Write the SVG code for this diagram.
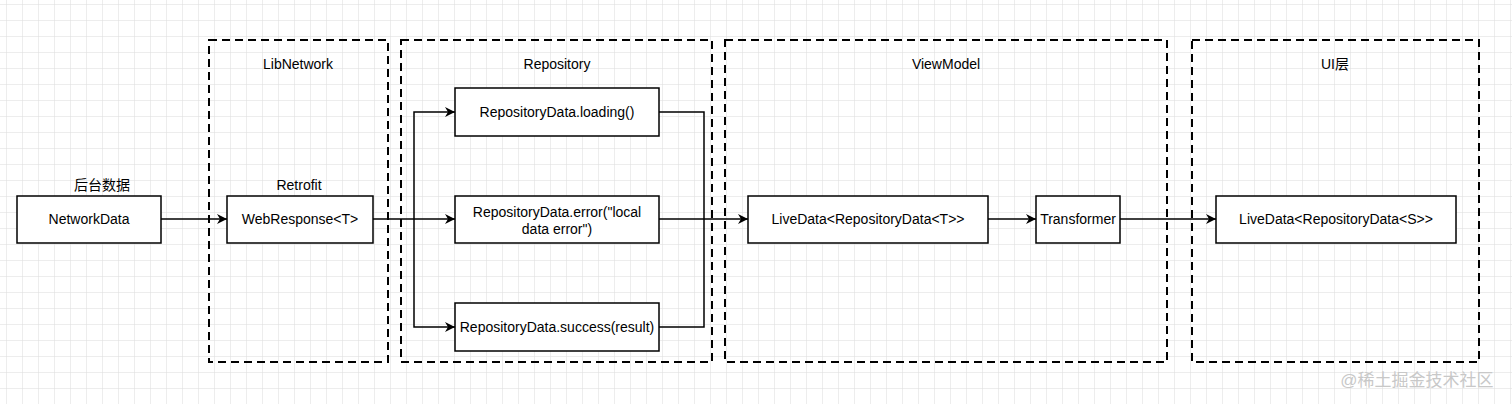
<svg xmlns="http://www.w3.org/2000/svg" width="1512" height="404" viewBox="0 0 1512 404">
<defs>
<pattern id="grid" width="16" height="16" patternUnits="userSpaceOnUse" x="6" y="4">
<path d="M16 0H0V16" fill="none" stroke="#dcdcdc" stroke-width="1"/>
</pattern>
<marker id="arr" viewBox="0 0 10 10" refX="10" refY="5" markerWidth="10" markerHeight="10" markerUnits="userSpaceOnUse" orient="auto">
<path d="M0 0L10 5L0 10L3 5Z" fill="#000"/>
</marker>
<style>
.box{fill:#fff;stroke:#000;stroke-width:1.5}
.grp{fill:none;stroke:#000;stroke-width:2;stroke-dasharray:8 5}
text{font-family:"Liberation Sans","Noto Sans CJK SC",sans-serif;font-size:14px;fill:#000;text-anchor:middle}
.ln{fill:none;stroke:#000;stroke-width:1.5}
</style>
</defs>
<rect width="1512" height="404" fill="#fff"/>
<rect width="1512" height="404" fill="url(#grid)"/>
<g id="libnetwork"><rect class="grp" x="209" y="40" width="179" height="322"/><text x="298" y="69">LibNetwork</text></g>
<g id="repository"><rect class="grp" x="401" y="40" width="311" height="322"/><text x="557" y="69">Repository</text></g>
<g id="viewmodel"><rect class="grp" x="725" y="40" width="442" height="322"/><text x="946" y="69">ViewModel</text></g>
<g id="ui"><rect class="grp" x="1192" y="40" width="287" height="322"/><text x="1335" y="69">UI层</text></g>
<g id="connectors">
<path class="ln" d="M161 219H227" marker-end="url(#arr)"/>
<path class="ln" d="M373 219H455" marker-end="url(#arr)"/>
<path class="ln" d="M414 219V112H455" marker-end="url(#arr)"/>
<path class="ln" d="M414 219V327H455" marker-end="url(#arr)"/>
<path class="ln" d="M659 112H704V327H659"/>
<path class="ln" d="M659 219H748" marker-end="url(#arr)"/>
<path class="ln" d="M988 219H1036" marker-end="url(#arr)"/>
<path class="ln" d="M1120 219H1216" marker-end="url(#arr)"/>
</g>
<g id="networkdata"><rect class="box" x="17" y="196" width="144" height="47"/><text x="89" y="224">NetworkData</text><text x="102" y="190">后台数据</text></g>
<g id="webresponse"><rect class="box" x="227" y="196" width="146" height="47"/><text x="300" y="224">WebResponse&lt;T&gt;</text><text x="299" y="190">Retrofit</text></g>
<g id="loading"><rect class="box" x="455" y="88" width="204" height="48"/><text x="557" y="117">RepositoryData.loading()</text></g>
<g id="error"><rect class="box" x="455" y="196" width="204" height="47"/><text x="557" y="217">RepositoryData.error("local</text><text x="557" y="234">data error")</text></g>
<g id="success"><rect class="box" x="455" y="303" width="204" height="48"/><text x="557" y="332">RepositoryData.success(result)</text></g>
<g id="livedata-t"><rect class="box" x="748" y="196" width="240" height="47"/><text x="868" y="224">LiveData&lt;RepositoryData&lt;T&gt;&gt;</text></g>
<g id="transformer"><rect class="box" x="1036" y="196" width="84" height="47"/><text x="1078" y="224">Transformer</text></g>
<g id="livedata-s"><rect class="box" x="1216" y="196" width="240" height="47"/><text x="1336" y="224">LiveData&lt;RepositoryData&lt;S&gt;&gt;</text></g>
<text x="1417" y="386" style="font-size:17px;fill:#c8c8c8">@稀土掘金技术社区</text>
</svg>
